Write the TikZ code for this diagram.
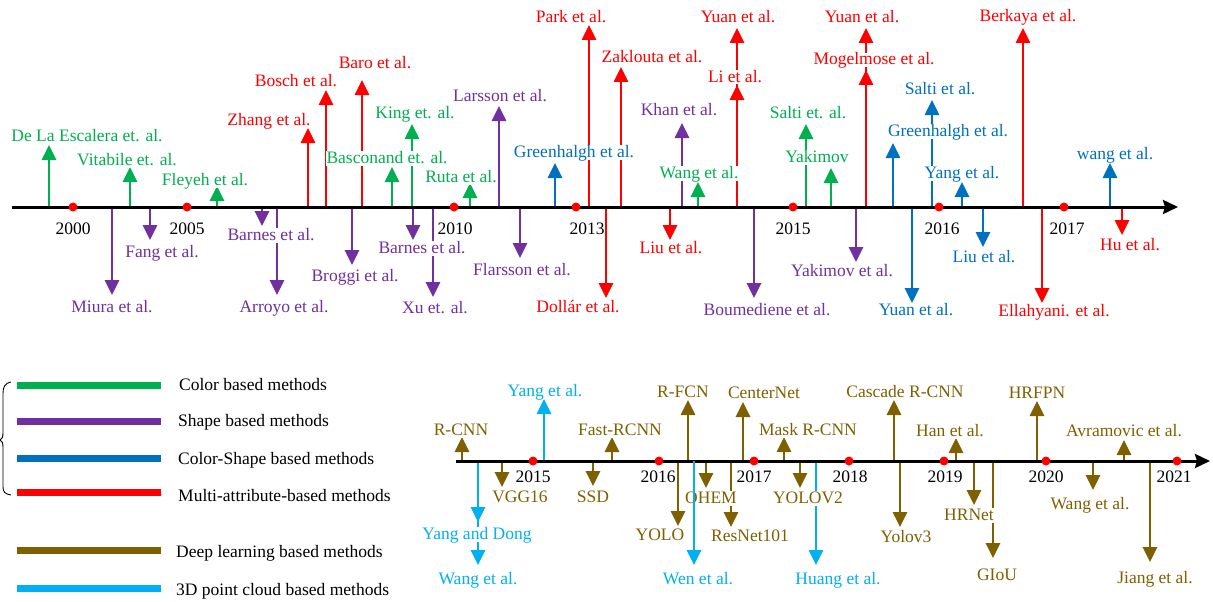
\documentclass[tikz,border=0pt]{standalone}
\usepackage{fontspec}
\setmainfont{Liberation Serif}
\usetikzlibrary{arrows.meta}
\pgfdeclarelayer{labels}
\pgfdeclarelayer{front}
\pgfsetlayers{main,labels,front}

\definecolor{cgreen}{HTML}{00B050}
\definecolor{cpurple}{HTML}{7030A0}
\definecolor{cblue}{HTML}{0070C0}
\definecolor{cred}{HTML}{FF0000}
\definecolor{cbrown}{HTML}{7F6000}
\definecolor{ccyan}{HTML}{00B0F0}

\tikzset{
  txt/.style={font=\fontsize{17.5}{20}\selectfont},
  evarrow/.style={line width=2.8pt, -{Triangle[length=15pt,width=14pt]}},
  evlabel/.style={txt, anchor=base, fill=white, inner xsep=0.5pt, inner ysep=0.5pt,
                  text height=11.5pt, text depth=2pt},
  yearlabel/.style={txt, anchor=base, inner sep=0pt},
  axisline/.style={line width=3pt, -{Stealth[length=15pt,width=14pt,inset=2pt]}},
  yeardot/.style={fill=red},
  legendline/.style={line width=7pt},
  legendtext/.style={txt, anchor=base west, inner sep=0pt},
}

% #1 name, #2 colour, #3 x, #4 axis y, #5 tip y, #6 label x, #7 label centre y, #8 text
\newcommand\tlevent[8]{%
  \coordinate (#1-base) at (#3,#4);
  \coordinate (#1-tip) at (#3,#5);
  \draw[evarrow,color=#2] (#1-base) -- (#1-tip);
  \begin{pgfonlayer}{labels}
    \node[evlabel,text=#2] (#1) at (#6,#7+5) {#8};
  \end{pgfonlayer}}

\begin{document}
\begin{tikzpicture}[x=1pt,y=-1pt]
\useasboundingbox (0,0) rectangle (1213,602);
\def\axA{207}
\def\axB{461}

% ---------------- upper timeline ----------------
\tlevent{dla}{cgreen}{49}{\axA}{145}{87}{136}{De La Escalera et. al.}
\tlevent{vit}{cgreen}{130}{\axA}{167}{127}{160}{Vitabile et. al.}
\tlevent{fle}{cgreen}{217}{\axA}{186}{205}{180}{Fleyeh et al.}
\tlevent{zha}{cred}{308}{\axA}{128}{269}{120}{Zhang et al.}
\tlevent{bos}{cred}{326}{\axA}{90}{296}{81}{Bosch et al.}
\tlevent{bar}{cred}{362}{\axA}{80}{375}{64}{Baro et al.}
\tlevent{bas}{cgreen}{392}{\axA}{167}{387}{158}{Basconand et. al.}
\tlevent{kin}{cgreen}{412}{\axA}{124}{415}{113}{King et. al.}
\tlevent{rut}{cgreen}{470}{\axA}{183}{461}{177}{Ruta et al.}
\tlevent{lar}{cpurple}{499}{\axA}{106}{500}{97}{Larsson et al.}
\tlevent{grA}{cblue}{555}{\axA}{163}{574}{152}{Greenhalgh et al.}
\tlevent{par}{cred}{589}{\axA}{25}{571}{18}{Park et al.}
\tlevent{zak}{cred}{621}{\axA}{67}{652}{58}{Zaklouta et al.}
\tlevent{kha}{cpurple}{682}{\axA}{123}{679}{110}{Khan et al.}
\tlevent{wag}{cgreen}{698}{\axA}{182}{699}{173}{Wang et al.}
\tlevent{yuA}{cred}{737}{\axA}{28}{738}{18}{Yuan et al.}
\tlevent{li}{cred}{737}{\axA}{85}{735}{77}{Li et al.}
\tlevent{sag}{cgreen}{806}{\axA}{124}{808}{113}{Salti et. al.}
\tlevent{yak}{cgreen}{831}{\axA}{168}{817}{157}{Yakimov}
\tlevent{yuB}{cred}{866}{\axA}{28}{862}{18}{Yuan et al.}
\tlevent{mog}{cred}{866}{\axA}{70}{874}{60}{Mogelmose et al.}
\tlevent{grB}{cblue}{893}{\axA}{143}{948}{131}{Greenhalgh et al.}
\tlevent{sab}{cblue}{932}{\axA}{100}{940}{90}{Salti et al.}
\tlevent{yan}{cblue}{962}{\axA}{182}{962}{173}{Yang et al.}
\tlevent{ber}{cred}{1023}{\axA}{28}{1028}{17}{Berkaya et al.}
\tlevent{wan}{cblue}{1110}{\axA}{163}{1115}{154}{wang et al.}

\tlevent{miu}{cpurple}{112}{\axA}{295}{112}{307}{Miura et al.}
\tlevent{fan}{cpurple}{150}{\axA}{240}{162}{252}{Fang et al.}
\tlevent{baA}{cpurple}{262}{\axA}{226}{271}{235}{Barnes et al.}
\tlevent{arr}{cpurple}{277}{\axA}{295}{284}{307}{Arroyo et al.}
\tlevent{bro}{cpurple}{352}{\axA}{265}{355}{276}{Broggi et al.}
\tlevent{baB}{cpurple}{413}{\axA}{240}{422}{248}{Barnes et al.}
\tlevent{xu}{cpurple}{433}{\axA}{297}{435}{308}{Xu et. al.}
\tlevent{fla}{cpurple}{520}{\axA}{258}{522}{270}{Flarsson et al.}
\tlevent{dol}{cred}{606}{\axA}{298}{578}{307}{Dollár et al.}
\tlevent{liu}{cred}{670}{\axA}{240}{671}{248}{Liu et al.}
\tlevent{bou}{cpurple}{754}{\axA}{298}{767}{310}{Boumediene et al.}
\tlevent{yke}{cpurple}{856}{\axA}{262}{842}{271}{Yakimov et al.}
\tlevent{yub}{cblue}{912}{\axA}{303}{916}{310}{Yuan et al.}
\tlevent{lib}{cblue}{983}{\axA}{247}{984}{257}{Liu et al.}
\tlevent{ell}{cred}{1042}{\axA}{303}{1054}{311}{Ellahyani. et al.}
\tlevent{hu}{cred}{1122}{\axA}{235}{1130}{245}{Hu et al.}

\coordinate (axA-start) at (12,\axA);
\coordinate (axA-end) at (1178,\axA);
\draw[axisline] (axA-start) -- (axA-end);
\foreach \yr/\xd/\xl in {2000/73/73, 2005/187/187, 2010/454/455, 2013/576/587,
                         2015/793/793, 2016/939/942, 2017/1064/1067}{
  \fill[yeardot] (\xd,\axA) circle (4.5pt);
  \node[yearlabel] (top-\yr) at (\xl,234) {\yr};
}

% ---------------- lower timeline ----------------
\tlevent{rcn}{cbrown}{462}{\axB}{437}{461}{430}{R-CNN}
\tlevent{yea}{ccyan}{544}{\axB}{399}{545}{391}{Yang et al.}
\tlevent{fas}{cbrown}{612}{\axB}{437}{620}{430}{Fast-RCNN}
\tlevent{rfc}{cbrown}{688}{\axB}{400}{683}{392}{R-FCN}
\tlevent{cen}{cbrown}{743}{\axB}{402}{764}{393}{CenterNet}
\tlevent{mas}{cbrown}{784}{\axB}{437}{808}{430}{Mask R-CNN}
\tlevent{cas}{cbrown}{894}{\axB}{400}{905}{392}{Cascade R-CNN}
\tlevent{han}{cbrown}{956}{\axB}{438}{950}{431}{Han et al.}
\tlevent{hrf}{cbrown}{1037}{\axB}{401}{1037}{393}{HRFPN}
\tlevent{avr}{cbrown}{1124}{\axB}{440}{1124}{431}{Avramovic et al.}

\tlevent{wae}{ccyan}{478}{\axB}{565}{478}{579}{Wang et al.}
\tlevent{yad}{ccyan}{478}{\axB}{522}{477}{534}{Yang and Dong}
\tlevent{vgg}{cbrown}{502}{\axB}{487}{520}{497}{VGG16}
\tlevent{ssd}{cbrown}{593}{\axB}{486}{593}{497}{SSD}
\tlevent{yol}{cbrown}{678}{\axB}{526}{660}{535}{YOLO}
\tlevent{ohe}{cbrown}{706}{\axB}{488}{711}{498}{OHEM}
\tlevent{res}{cbrown}{731}{\axB}{527}{750}{536}{ResNet101}
\tlevent{yvb}{cbrown}{800}{\axB}{488}{808}{498}{YOLOV2}
\tlevent{hua}{ccyan}{816}{\axB}{565}{838}{579}{Huang et al.}
\tlevent{yvc}{cbrown}{900}{\axB}{527}{906}{537}{Yolov3}
\tlevent{hrn}{cbrown}{974}{\axB}{505}{969}{515}{HRNet}
\tlevent{gio}{cbrown}{993}{\axB}{558}{997}{575}{GIoU}
\tlevent{wab}{cbrown}{1093}{\axB}{490}{1090}{504}{Wang et al.}
\tlevent{jia}{cbrown}{1150}{\axB}{562}{1155}{578}{Jiang et al.}

% Wen et al. runs in front of the OHEM label
\coordinate (wen-base) at (694,\axB);
\coordinate (wen-tip) at (694,565);
\begin{pgfonlayer}{front}
  \draw[evarrow,color=ccyan] (wen-base) -- (wen-tip);
  \node[evlabel,text=ccyan] (wen) at (698,584) {Wen et al.};
\end{pgfonlayer}

\coordinate (axB-start) at (456,\axB);
\coordinate (axB-end) at (1210,\axB);
\draw[axisline] (axB-start) -- (axB-end);
\foreach \yr/\xd/\xl in {2015/533/533, 2016/659/658, 2017/754/754, 2018/849/850,
                         2019/944/945, 2020/1046/1046, 2021/1177/1174}{
  \fill[yeardot] (\xd,\axB) circle (4.5pt);
  \node[yearlabel] (bot-\yr) at (\xl,482) {\yr};
}

% ---------------- legend ----------------
\foreach \nm/\col/\yy/\lab in {
    color/cgreen/385/Color based methods,
    shape/cpurple/421/Shape based methods,
    colorshape/cblue/458/Color-Shape based methods,
    multi/cred/492/Multi-attribute-based methods,
    deep/cbrown/550/Deep learning based methods,
    cloud/ccyan/588/3D point cloud based methods}{
  \draw[legendline,\col] (17,\yy) -- (161,\yy);
}
\node[legendtext] (leg-color) at (179,390) {Color based methods};
\node[legendtext] (leg-shape) at (178,426) {Shape based methods};
\node[legendtext] (leg-colorshape) at (178,464) {Color-Shape based methods};
\node[legendtext] (leg-multi) at (178,501) {Multi-attribute-based methods};
\node[legendtext] (leg-deep) at (176,557) {Deep learning based methods};
\node[legendtext] (leg-cloud) at (176,595) {3D point cloud based methods};

% brace grouping the four traditional families
\draw[line width=0.9pt] (11,382) .. controls (5,383) and (3,387) .. (3,393) -- (3,433)
  .. controls (3,437) and (2,439) .. (0,440) .. controls (2,441) and (3,443) .. (3,447)
  -- (3,487) .. controls (3,492) and (5,494) .. (11,495);
\end{tikzpicture}
\end{document}
